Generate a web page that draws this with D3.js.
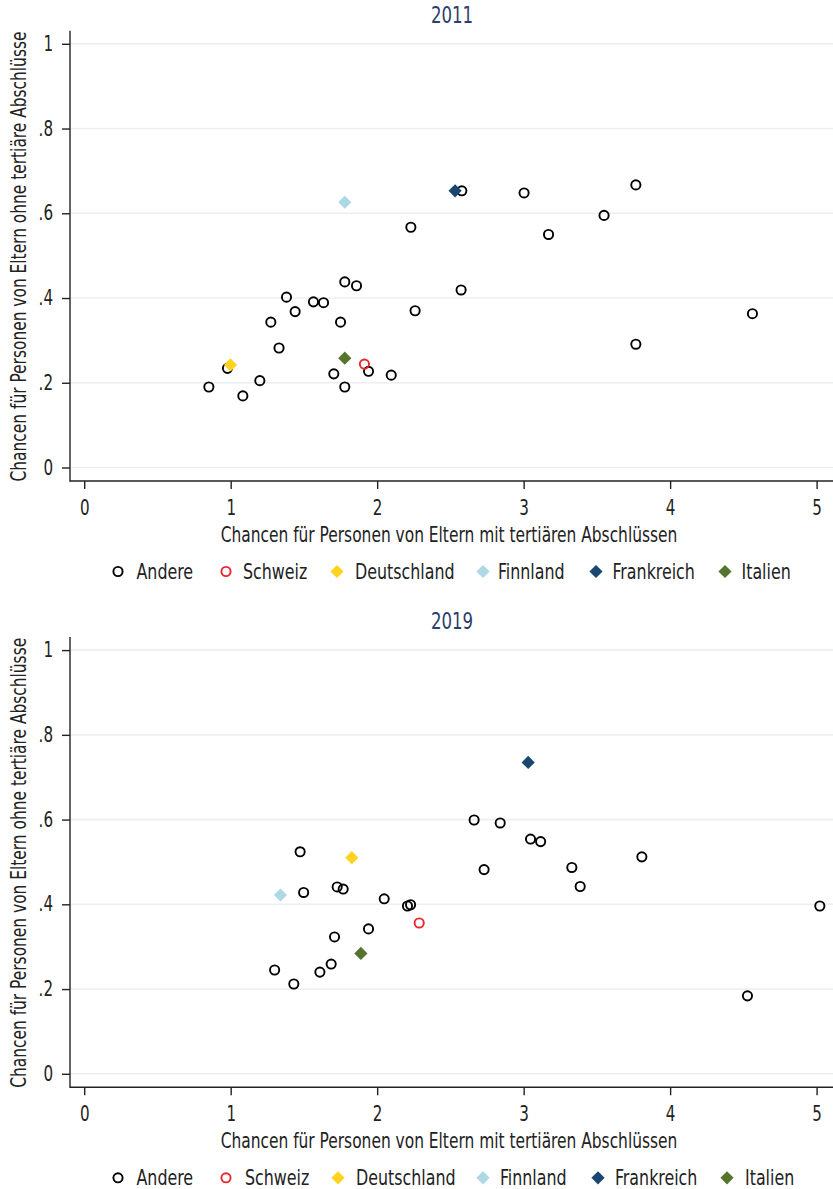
<!DOCTYPE html>
<html>
<head>
<meta charset="utf-8">
<script src="https://cdn.jsdelivr.net/npm/d3@7"></script>
<style>
  html, body { margin: 0; padding: 0; background: #fff; }
  svg { display: block; }
  text { font-family: "Liberation Sans Narrow", "Arial Narrow", "DejaVu Sans Condensed", sans-serif; }
</style>
</head>
<body>
<div id="chart"></div>
<script>
// ---------- DATA ----------
const years = ["2011", "2019"];
const categories = ["Andere", "Schweiz", "Deutschland", "Finnland", "Frankreich", "Italien"];
const highlighted = ["Schweiz", "Deutschland", "Finnland", "Frankreich", "Italien"];

// 2011 – "Andere" countries
const andere2011X = [2.578, 3.003, 3.766, 3.549, 2.230, 3.170, 2.573, 2.259, 4.562, 3.766,
                     1.779, 1.859, 1.381, 1.565, 1.634, 1.440, 1.274, 1.750, 1.330, 0.978,
                     1.941, 1.704, 2.096, 1.199, 0.851, 1.779, 1.083];
const andere2011Y = [0.653, 0.648, 0.667, 0.595, 0.567, 0.550, 0.419, 0.370, 0.363, 0.291,
                     0.438, 0.429, 0.402, 0.391, 0.389, 0.368, 0.343, 0.343, 0.282, 0.234,
                     0.227, 0.221, 0.218, 0.205, 0.190, 0.190, 0.169];
// 2011 – highlighted (Schweiz, Deutschland, Finnland, Frankreich, Italien)
const highlight2011X = [1.913, 0.999, 1.779, 2.532, 1.779];
const highlight2011Y = [0.244, 0.242, 0.626, 0.653, 0.258];

// 2019 – "Andere" countries
const andere2019X = [2.662, 1.474, 2.730, 1.727, 1.768, 1.498, 2.048, 2.207, 2.228, 1.941,
                     1.709, 1.686, 1.609, 1.300, 1.431, 2.840, 3.047, 3.116, 3.807, 3.329,
                     3.386, 5.022, 4.528];
const andere2019Y = [0.599, 0.524, 0.482, 0.441, 0.436, 0.428, 0.413, 0.396, 0.399, 0.342,
                     0.323, 0.259, 0.240, 0.245, 0.212, 0.592, 0.554, 0.548, 0.512, 0.487,
                     0.442, 0.396, 0.184];
// 2019 – highlighted (Schweiz, Deutschland, Finnland, Frankreich, Italien)
const highlight2019X = [2.287, 1.827, 1.340, 3.031, 1.889];
const highlight2019Y = [0.356, 0.510, 0.422, 0.735, 0.284];

const xTicks = [0, 1, 2, 3, 4, 5];
const xTickLabels = ["0", "1", "2", "3", "4", "5"];
const yTicks = [0, 0.2, 0.4, 0.6, 0.8, 1];
const yTickLabels = ["0", ".2", ".4", ".6", ".8", "1"];

const xTitle = "Chancen für Personen von Eltern mit tertiären Abschlüssen";
const yTitle = "Chancen für Personen von Eltern ohne tertiäre Abschlüsse";

// ---------- STYLE / LAYOUT ----------
const W = 833, H = 1189;
const colors = {
  Andere: "#000000",
  Schweiz: "#e8262b",
  Deutschland: "#ffd320",
  Finnland: "#add8e6",
  Frankreich: "#1a476f",
  Italien: "#55752f"
};
const shapes = { Andere: "circle", Schweiz: "circle", Deutschland: "diamond",
                 Finnland: "diamond", Frankreich: "diamond", Italien: "diamond" };
const panelOffsets = [0, 606.3];
const legendMarkerX = [[118, 226, 337, 483, 596, 725], [118, 226, 338, 483, 598, 727]];
const legendTextX = [[136.5, 243, 355, 498, 612.5, 741.5], [136.5, 245, 356, 500, 615, 745]];
const condense = 0.82;

const svg = d3.select("#chart").append("svg")
  .attr("width", W).attr("height", H);

const x = d3.scaleLinear().domain([0, 5]).range([84.2, 816.6]);

function squeeze(sel) {
  sel.each(function () {
    const len = this.getComputedTextLength();
    d3.select(this).attr("textLength", len * condense).attr("lengthAdjust", "spacingAndGlyphs");
  });
}

// Draw a text of a given visual size and length: the font is sized so that its natural
// length matches, then stretched vertically to the wanted glyph height.
function fittedText(g, str, cx, cy, rotate, size, targetLen) {
  const t = g.append("text").attr("font-size", size).attr("text-anchor", "middle")
    .attr("fill", "#222").text(str);
  const nat = t.node().getComputedTextLength();
  const f = size * targetLen / nat;
  t.attr("font-size", f)
   .attr("transform", `translate(${cx},${cy}) rotate(${rotate}) scale(1,${size / f})`);
  return t;
}

function drawMarker(g, cat, cx, cy) {
  if (shapes[cat] === "circle") {
    g.append("circle").attr("cx", cx).attr("cy", cy).attr("r", 4.6)
      .attr("fill", "none").attr("stroke", colors[cat]).attr("stroke-width", 1.9);
  } else {
    const r = 6.6;
    g.append("path")
      .attr("d", `M${cx},${cy - r}L${cx + r},${cy}L${cx},${cy + r}L${cx - r},${cy}Z`)
      .attr("fill", colors[cat]);
  }
}

const panels = [
  { year: years[0], ax: andere2011X, ay: andere2011Y, hx: highlight2011X, hy: highlight2011Y },
  { year: years[1], ax: andere2019X, ay: andere2019Y, hx: highlight2019X, hy: highlight2019Y }
];

panels.forEach((p, i) => {
  const off = panelOffsets[i];
  const g = svg.append("g").attr("transform", `translate(0,${off})`);
  const y = d3.scaleLinear().domain([0, 1]).range([467.5, 43.8]);

  const axisTop = 30.8, axisBottomY = 481, axisLeftX = 70, axisRight = 833;

  // gridlines
  g.append("g").selectAll("line").data(yTicks).join("line")
    .attr("x1", axisLeftX + 1).attr("x2", axisRight)
    .attr("y1", d => y(d)).attr("y2", d => y(d))
    .attr("stroke", "#e9eff4").attr("stroke-width", 1.6);

  // Y axis
  const yAxis = d3.axisLeft(y).tickValues(yTicks)
    .tickFormat((d, k) => yTickLabels[k]).tickSize(8).tickPadding(9);
  const yg = g.append("g").attr("transform", `translate(${axisLeftX},0)`).call(yAxis);
  yg.select(".domain").remove();
  yg.selectAll(".tick line").attr("stroke", "#222").attr("stroke-width", 1.4);
  yg.selectAll(".tick text").attr("fill", "#222").attr("font-size", 20.5)
    .style("font-family", null).call(squeeze);
  g.append("line").attr("x1", axisLeftX).attr("x2", axisLeftX)
    .attr("y1", axisTop).attr("y2", axisBottomY + 0.7)
    .attr("stroke", "#222").attr("stroke-width", 1.4);

  // X axis
  const xAxis = d3.axisBottom(x).tickValues(xTicks)
    .tickFormat((d, k) => xTickLabels[k]).tickSize(8).tickPadding(11);
  const xg = g.append("g").attr("transform", `translate(0,${axisBottomY})`).call(xAxis);
  xg.select(".domain").remove();
  xg.selectAll(".tick line").attr("stroke", "#222").attr("stroke-width", 1.4);
  xg.selectAll(".tick text").attr("fill", "#222").attr("font-size", 20.5)
    .style("font-family", null).call(squeeze);
  g.append("line").attr("x1", axisLeftX).attr("x2", axisRight)
    .attr("y1", axisBottomY).attr("y2", axisBottomY)
    .attr("stroke", "#222").attr("stroke-width", 1.4);

  // Title
  g.append("text").attr("x", 452).attr("y", 22.5).attr("text-anchor", "middle")
    .attr("font-size", 22.5).attr("fill", "#2c3e6b").text(p.year).call(squeeze);

  // Axis titles
  fittedText(g, xTitle, 449, 541.5, 0, 22, 457);
  fittedText(g, yTitle, 25.5, 256.5, -90, 22, 450);

  // Points: Andere first
  const pts = g.append("g");
  p.ax.forEach((vx, k) => drawMarker(pts, "Andere", x(vx), y(p.ay[k])));
  highlighted.forEach((cat, k) => drawMarker(pts, cat, x(p.hx[k]), y(p.hy[k])));

  // Legend
  const lg = g.append("g");
  categories.forEach((cat, k) => {
    drawMarker(lg, cat, legendMarkerX[i][k], 571.5);
    lg.append("text").attr("x", legendTextX[i][k]).attr("y", 578.5)
      .attr("font-size", 21.5).attr("fill", "#222").text(cat).call(squeeze);
  });
});
</script>
</body>
</html>
